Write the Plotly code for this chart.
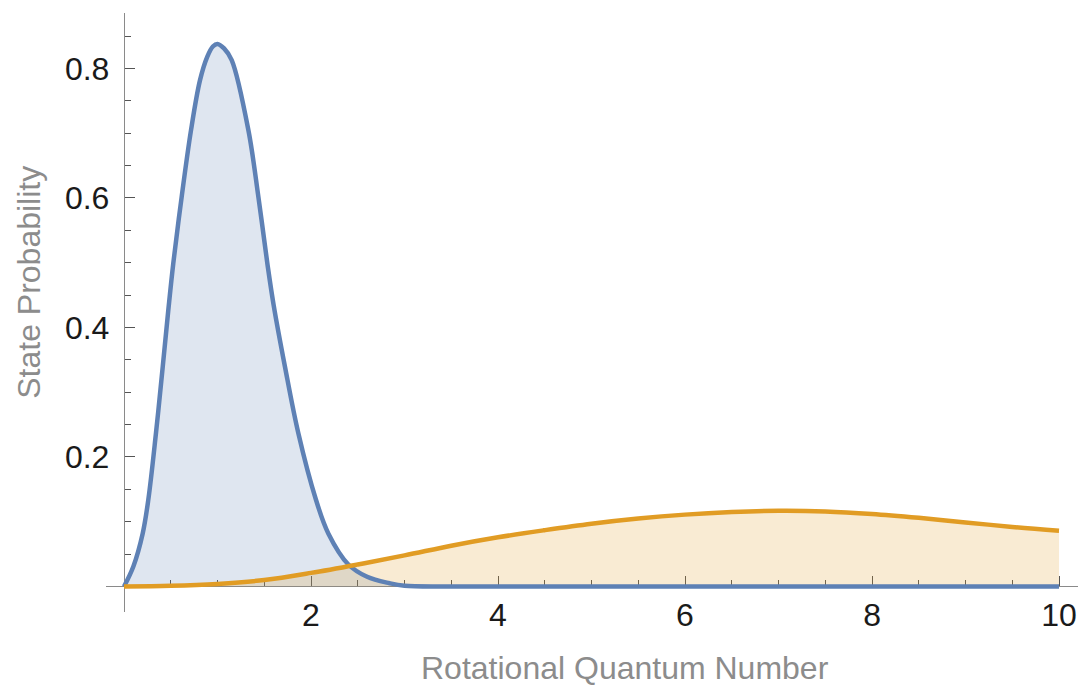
import plotly.graph_objects as go

# Rotational state populations, two temperatures
j_cold = [0.0, 0.1, 0.2, 0.26, 0.342, 0.414, 0.474, 0.527, 0.617, 0.717, 0.813, 0.89,
          0.95, 1.0, 1.07, 1.152, 1.33, 1.437, 1.533, 1.6, 1.722, 1.864, 2.053, 2.185, 2.4,
          2.6, 2.84, 3.0, 3.5, 4.0, 5.0, 6.0, 7.0, 8.0, 9.0, 10.0]
p_cold = [0.0, 0.031, 0.082, 0.134, 0.237, 0.339, 0.427, 0.499, 0.602, 0.705, 0.782, 0.818,
          0.834, 0.838, 0.831, 0.813, 0.705, 0.602, 0.499, 0.435, 0.339, 0.237, 0.134, 0.082,
          0.034, 0.015, 0.005, 0.001, 0.0, 0.0, 0.0, 0.0, 0.0, 0.0, 0.0, 0.0]

j_hot = [0.0, 0.5, 1.0, 1.5, 2.0, 2.5, 3.0, 3.5, 4.0, 4.5, 5.0, 5.5, 6.0,
         6.5, 7.0, 7.5, 8.0, 8.5, 9.0, 9.5, 10.0]
p_hot = [0.0, 0.001, 0.004, 0.010, 0.021, 0.034, 0.048, 0.063, 0.076, 0.087, 0.097,
         0.105, 0.111, 0.115, 0.117, 0.116, 0.112, 0.106, 0.099, 0.092, 0.086]

x_major = [2, 4, 6, 8, 10]
x_minor = [0.5, 1, 1.5, 2.5, 3, 3.5, 4.5, 5, 5.5, 6.5, 7, 7.5, 8.5, 9, 9.5]
y_major = [0.2, 0.4, 0.6, 0.8]
y_minor = [0.05, 0.1, 0.15, 0.25, 0.3, 0.35, 0.45, 0.5, 0.55, 0.65, 0.7, 0.75, 0.85]

BLUE = "#5E81B5"
ORANGE = "#E19C24"
BLUE_FILL = "rgba(94,129,181,0.2)"
ORANGE_FILL = "rgba(225,156,36,0.2)"

x_range = [-0.1925, 10.203]
y_range = [-0.0394, 0.8857]

fig = go.Figure()

# filled areas first, then the curves on top
fig.add_trace(go.Scatter(x=j_cold, y=p_cold, mode="lines", line=dict(width=0, shape="spline"),
                         fill="tozeroy", fillcolor=BLUE_FILL, hoverinfo="skip"))
fig.add_trace(go.Scatter(x=j_hot, y=p_hot, mode="lines", line=dict(width=0, shape="spline"),
                         fill="tozeroy", fillcolor=ORANGE_FILL, hoverinfo="skip"))
fig.add_trace(go.Scatter(x=j_cold, y=p_cold, mode="lines",
                         line=dict(color=BLUE, width=4.5, shape="spline", smoothing=1)))
fig.add_trace(go.Scatter(x=j_hot, y=p_hot, mode="lines",
                         line=dict(color=ORANGE, width=4.5, shape="spline", smoothing=1)))

axis_color = "#8a8a8a"
tick_color = "#555555"
font_family = "Liberation Sans, Arial, sans-serif"

fig.update_layout(
    width=1080, height=685,
    margin=dict(l=106, r=2, t=13, b=73),
    paper_bgcolor="white", plot_bgcolor="white",
    showlegend=False,
    font=dict(family=font_family, size=32, color="#1a1a1a"),
    xaxis=dict(
        range=x_range, anchor="free",
        position=(0 - y_range[0]) / (y_range[1] - y_range[0]),
        showgrid=False, zeroline=False,
        showline=True, linecolor=axis_color, linewidth=1.4,
        tickmode="array", tickvals=x_major, ticktext=[str(v) for v in x_major],
        ticks="inside", ticklen=10, tickwidth=1.3, tickcolor=tick_color,
        ticklabelstandoff=0,
        minor=dict(tickmode="array", tickvals=x_minor, ticks="inside", ticklen=6,
                   tickwidth=1.1, tickcolor=tick_color, showgrid=False),
        layer="below traces", automargin=False,
    ),
    yaxis=dict(
        range=y_range, anchor="free",
        position=(0 - x_range[0]) / (x_range[1] - x_range[0]),
        showgrid=False, zeroline=False,
        showline=True, linecolor=axis_color, linewidth=1.4,
        tickmode="array", tickvals=y_major, ticktext=["0.2", "0.4", "0.6", "0.8"],
        ticks="inside", ticklen=10, tickwidth=1.3, tickcolor=tick_color,
        ticklabelstandoff=8,
        minor=dict(tickmode="array", tickvals=y_minor, ticks="inside", ticklen=6,
                   tickwidth=1.1, tickcolor=tick_color, showgrid=False),
        layer="below traces", automargin=False,
    ),
    annotations=[
        dict(text="Rotational Quantum Number", xref="paper", yref="paper",
             x=0.534, y=-0.0935, xanchor="center", yanchor="middle", showarrow=False,
             font=dict(family=font_family, size=32, color="#8c8c8c")),
        dict(text="State Probability", xref="paper", yref="paper",
             x=-0.080, y=0.55, xanchor="center", yanchor="middle", showarrow=False,
             textangle=-90,
             font=dict(family=font_family, size=32, color="#8c8c8c")),
    ],
)

fig.write_html("out.html")
